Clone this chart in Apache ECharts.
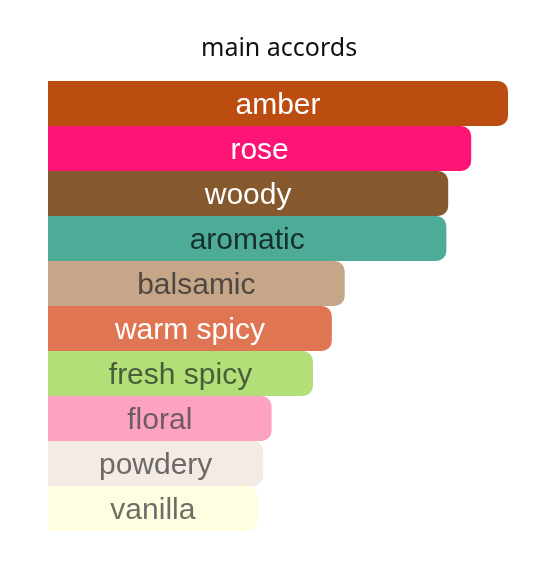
<!DOCTYPE html>
<html>
<head>
<meta charset="utf-8">
<script src="https://cdn.jsdelivr.net/npm/echarts@6/dist/echarts.min.js"></script>
<style>
html,body{margin:0;padding:0;background:#fff;}
#c{width:548px;height:577px;}
</style>
</head>
<body>
<div id="c"></div>
<script>
const categories = ["amber","rose","woody","aromatic","balsamic","warm spicy","fresh spicy","floral","powdery","vanilla"];
const values = [100, 92.0, 87.0, 86.6, 64.5, 61.7, 57.6, 48.6, 46.8, 45.6];
const barColors = ["#bb4d11","#fd1576","#86582e","#4dab97","#c5a688","#df7552","#b3df78","#fda2bf","#f4ebe5","#fffee0"];
const textColors = ["#ffffff","#ffffff","#ffffff","#15302b","#504840","#ffffff","#4a5e3a","#6e5a62","#6c6968","#6e6e68"];

const chart = echarts.init(document.getElementById('c'), null, {renderer:'canvas'});
chart.setOption({
  animation:false,
  backgroundColor:'#ffffff',
  title:{
    text:'main accords',
    left:196, top:31,
    textStyle:{fontFamily:'Noto Sans', fontSize:25, fontWeight:'normal', color:'#111111'}
  },
  grid:{left:48, right:40, top:81, bottom:46, containLabel:false},
  xAxis:{type:'value', min:0, max:100, show:false},
  yAxis:{type:'category', data:categories, inverse:true, show:false},
  series:[{
    type:'bar',
    barCategoryGap:'0%',
    barWidth:'100%',
    data: values.map((v,i)=>({
      value:v,
      itemStyle:{color:barColors[i], borderRadius:[0,10,10,0]},
      label:{color:textColors[i]}
    })),
    label:{
      show:true, position:'inside', offset:[0,2],
      formatter:(p)=>categories[p.dataIndex],
      fontFamily:'Liberation Sans, Arial, sans-serif', fontSize:30
    }
  }]
});
</script>
</body>
</html>
